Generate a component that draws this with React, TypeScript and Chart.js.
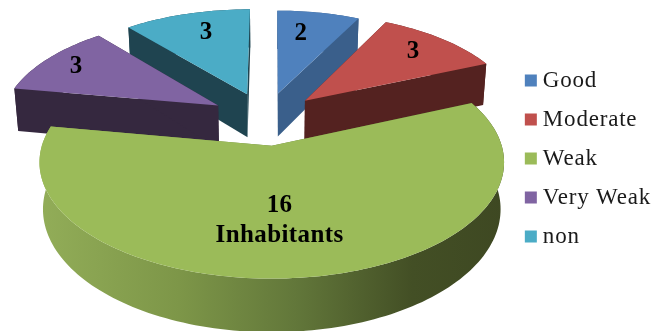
import React, { useEffect, useRef } from "react";
import { Chart, registerables } from "chart.js";

Chart.register(...registerables);

const categories = ["Good", "Moderate", "Weak", "Very Weak", "non"];
const values = [2, 3, 16, 3, 3];
const topColors = ["#4f81bd", "#c0504d", "#9bbb59", "#8064a2", "#4bacc6"];
const wallColors = ["#3a5f8b", "#542220", "#6a7f3c", "#35283f", "#1f4450"];
const sliceRadii = [0.935, 0.965, 1, 0.975, 0.96];
const labelFractions = [0.69, 0.76, 0.58, 0.81, 0.72];
const labelNudgeX = [-6, 2, -9, -3, 4];
const labelNudgeY = [-2, -1, 3, 0, -2];
const unitLabel = "Inhabitants";

// Camera model of the tilted, exploded pie
const ORIGIN_X = 272;
const ORIGIN_Y = 146;
const SCALE_X = 230;
const SCALE_Y = 114;
const PERSPECTIVE = 0.142;
const HEIGHT = 46;
const BASE_SHRINK = 0.985;
const PIE_U = -0.03;
const PIE_V = -0.25;
const EXPLODE = 0.25;

const top = (u: number, v: number) => {
  const w = 1 - PERSPECTIVE * v;
  return [ORIGIN_X + (SCALE_X * u) / w, ORIGIN_Y + (SCALE_Y * v) / w];
};
const bottom = (u: number, v: number) => {
  const w = 1 - PERSPECTIVE * v;
  return [ORIGIN_X + (BASE_SHRINK * SCALE_X * u) / w, ORIGIN_Y + (SCALE_Y * v + HEIGHT) / w];
};

const fillPath = (ctx: CanvasRenderingContext2D, pts: number[][]) => {
  ctx.beginPath();
  pts.forEach((p, i) => (i ? ctx.lineTo(p[0], p[1]) : ctx.moveTo(p[0], p[1])));
  ctx.closePath();
  ctx.fill();
};

const setSpacing = (chart: any) => {
  chart.ctx.letterSpacing = "0.8px";
};

const pie3d = {
  id: "pie3d",
  beforeUpdate: setSpacing,
  beforeDraw: setSpacing,
  beforeDatasetsDraw(chart: any) {
    const ctx = chart.ctx as CanvasRenderingContext2D;
    const arcs = chart.getDatasetMeta(0).data as any[];
    const order = arcs
      .map((arc, i) => ({ arc, i, mid: (arc.startAngle + arc.endAngle) / 2 }))
      .sort((a, b) => Math.sin(a.mid) - Math.sin(b.mid));

    const rimGradient = ctx.createLinearGradient(40, 0, 505, 0);
    rimGradient.addColorStop(0, "#92ad58");
    rimGradient.addColorStop(0.3, "#7d9648");
    rimGradient.addColorStop(0.55, "#62773a");
    rimGradient.addColorStop(0.8, "#434f25");
    rimGradient.addColorStop(1, "#3e4822");

    ctx.save();
    for (const { arc, i, mid } of order) {
      const cu = PIE_U + EXPLODE * Math.cos(mid);
      const cv = PIE_V + EXPLODE * Math.sin(mid);
      const r = sliceRadii[i];
      const rim: number[][] = [];
      const n = Math.max(2, Math.ceil((arc.endAngle - arc.startAngle) * 40));
      for (let k = 0; k <= n; k++) {
        const a = arc.startAngle + ((arc.endAngle - arc.startAngle) * k) / n;
        rim.push([cu + r * Math.cos(a), cv + r * Math.sin(a)]);
      }
      const wallQuad = (p: number[], q: number[]) => [
        top(p[0], p[1]),
        top(q[0], q[1]),
        bottom(q[0], q[1]),
        bottom(p[0], p[1]),
      ];
      const rimShape = [
        ...rim.map((p) => top(p[0], p[1])),
        ...rim.slice().reverse().map((p) => bottom(p[0], p[1])),
      ];
      const isFront = Math.sin(mid) > 0;
      ctx.fillStyle = isFront ? rimGradient : wallColors[i];
      if (!isFront) fillPath(ctx, rimShape);
      fillPath(ctx, wallQuad([cu, cv], rim[0]));
      fillPath(ctx, wallQuad([cu, cv], rim[n]));
      if (isFront) fillPath(ctx, rimShape);

      const apex = top(cu, cv);
      ctx.fillStyle = arc.options.backgroundColor;
      fillPath(ctx, [apex, ...rim.map((p) => top(p[0], p[1]))]);
    }

    ctx.fillStyle = "#000000";
    ctx.font = "bold 25px 'Liberation Serif'";
    (ctx as any).letterSpacing = "0.4px";
    ctx.textAlign = "center";
    ctx.textBaseline = "middle";
    for (const { i, mid } of order) {
      const f = labelFractions[i] * sliceRadii[i];
      const cu = PIE_U + (EXPLODE + f) * Math.cos(mid);
      const cv = PIE_V + (EXPLODE + f) * Math.sin(mid);
      const s = top(cu, cv);
      const x = s[0] + labelNudgeX[i];
      const y = s[1] + labelNudgeY[i];
      if (values[i] === Math.max(...values)) {
        ctx.fillText(String(values[i]), x, y - 15);
        ctx.fillText(unitLabel, x, y + 15);
      } else {
        ctx.fillText(String(values[i]), x, y);
      }
    }
    ctx.restore();
    return false;
  },
};

export default function App() {
  const ref = useRef<HTMLCanvasElement>(null);
  useEffect(() => {
    const canvas = ref.current as HTMLCanvasElement;
    const chart = new Chart(canvas, {
      type: "pie",
      data: {
        labels: categories,
        datasets: [{ data: values, backgroundColor: topColors, borderWidth: 0 }],
      },
      options: {
        animation: false,
        responsive: false,
        events: [],
        layout: { padding: { right: -3, bottom: 14, top: 0, left: 0 } },
        plugins: {
          tooltip: { enabled: false },
          legend: {
            position: "right",
            labels: {
              usePointStyle: true,
              pointStyle: "rect",
              boxWidth: 1,
              boxHeight: 12,
              padding: 16,
              color: "#1a1a1a",
              font: { family: "'Liberation Serif'", size: 23 },
            },
          },
        },
      },
      plugins: [pie3d],
    } as any);
    return () => chart.destroy();
  }, []);
  return (
    <div style={{ position: "absolute", left: 0, top: 0, width: 658, height: 331, background: "#fff" }}>
      <canvas ref={ref} width={658} height={331} style={{ display: "block" }} />
    </div>
  );
}
